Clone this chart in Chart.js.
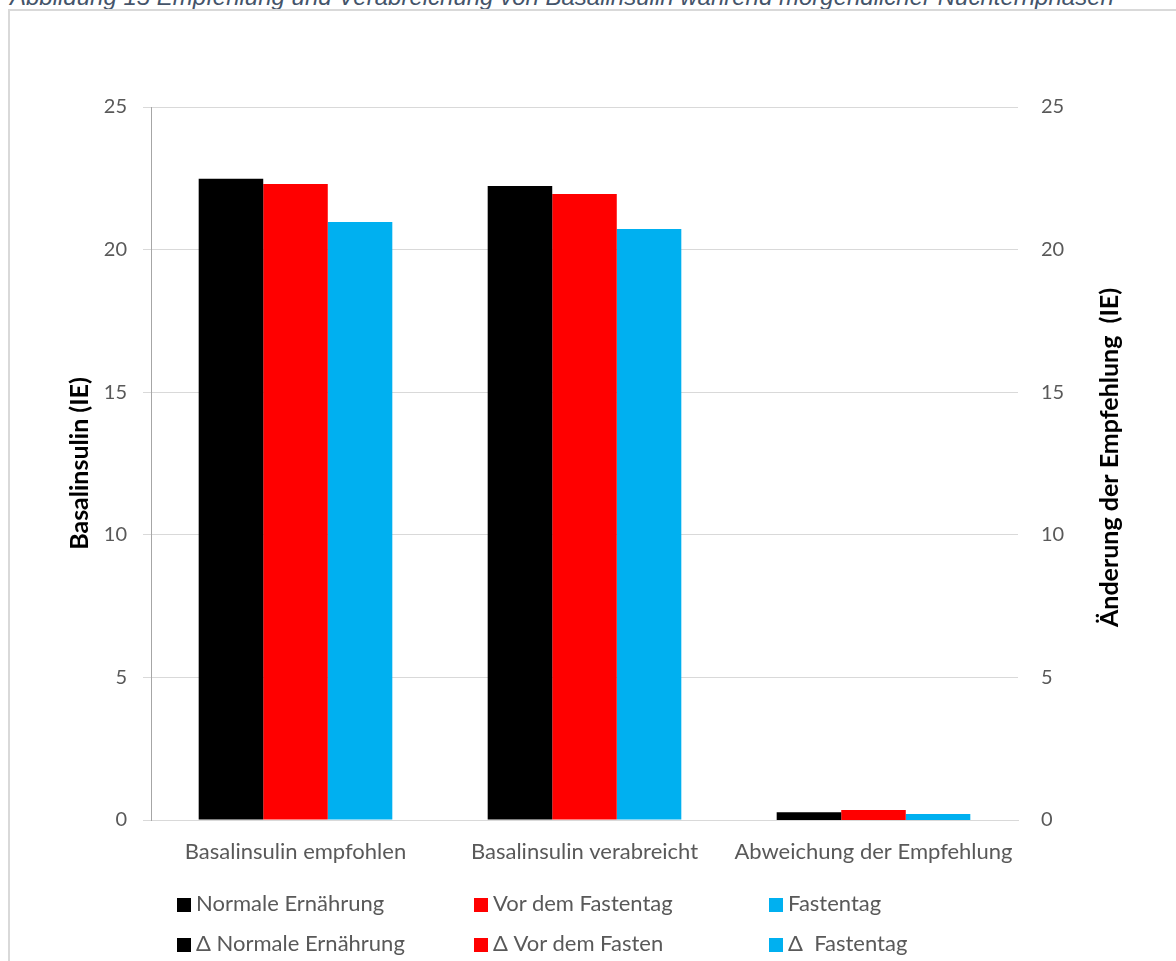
<!DOCTYPE html>
<html>
<head>
<meta charset="utf-8">
<script src="https://cdn.jsdelivr.net/npm/chart.js@4/dist/chart.umd.min.js"></script>
<style>
  html, body { margin: 0; padding: 0; background: #fff; }
  body { width: 1176px; height: 961px; position: relative; overflow: hidden; }
  #caption {
    position: absolute; left: 10px; top: -15px;
    font: italic 24px "Liberation Sans", Arial, sans-serif; line-height: 24px;
    color: #44546a; white-space: nowrap;
  }
  #frame {
    position: absolute; left: 8px; top: 9px; width: 1300px; height: 1100px;
    border: 2px solid #d9d9d9;
  }
  #chart { position: absolute; left: 0; top: 0; }
  #legend { position: absolute; left: 0; top: 0; }
  .item {
    position: absolute; white-space: pre;
    font: 22px Lato, "Open Sans", sans-serif; color: #595959; line-height: 26px;
  }
  .item i { display: inline-block; width: 14px; height: 14px; margin-right: 5px; vertical-align: -1px; }
</style>
</head>
<body>
<div id="caption">Abbildung 15 Empfehlung und Verabreichung von Basalinsulin während morgendlicher Nüchternphasen</div>
<div id="frame"></div>
<canvas id="chart" width="1176" height="961"></canvas>
<div id="legend"></div>
<script>
const categories = ['Basalinsulin empfohlen', 'Basalinsulin verabreicht', 'Abweichung der Empfehlung'];

// IE values, left axis
const normal = [22.48, 22.23, null];
const beforeFast = [22.3, 21.95, null];
const fastDay = [20.97, 20.72, null];

// change vs. recommendation, right axis
const deltaNormal = [null, null, 0.27];
const deltaBeforeFast = [null, null, 0.35];
const deltaFastDay = [null, null, 0.21];

const yTicks = [0, 5, 10, 15, 20, 25];

const BLACK = '#000000', RED = '#ff0000', CYAN = '#00b0f0';
const tickFont = { family: 'Lato', size: 20 };
const catFont = { family: 'Lato', size: 22 };
const titleFont = { family: 'Lato', size: 25, weight: 'bold' };
const rightTitle = 'Änderung der Empfehlung  (IE)';

const datasets = [
  { label: 'Normale Ernährung', data: normal, backgroundColor: BLACK, yAxisID: 'y' },
  { label: 'Vor dem Fastentag', data: beforeFast, backgroundColor: RED, yAxisID: 'y' },
  { label: 'Fastentag', data: fastDay, backgroundColor: CYAN, yAxisID: 'y' },
  { label: 'Δ Normale Ernährung', data: deltaNormal, backgroundColor: BLACK, yAxisID: 'y1' },
  { label: 'Δ Vor dem Fasten', data: deltaBeforeFast, backgroundColor: RED, yAxisID: 'y1' },
  { label: 'Δ  Fastentag', data: deltaFastDay, backgroundColor: CYAN, yAxisID: 'y1' },
];

// secondary axis title, read bottom-to-top like the primary one
const rightTitlePlugin = {
  id: 'rightTitle',
  afterDraw(c) {
    const { ctx, chartArea } = c;
    ctx.save();
    ctx.translate(1110, (chartArea.top + chartArea.bottom) / 2 - 6);
    ctx.rotate(-Math.PI / 2);
    ctx.font = `bold ${titleFont.size}px ${titleFont.family}`;
    ctx.fillStyle = '#000';
    ctx.textAlign = 'center';
    ctx.textBaseline = 'middle';
    ctx.fillText(rightTitle, 0, 0);
    ctx.restore();
  },
};

const chart = new Chart(document.getElementById('chart'), {
  type: 'bar',
  data: { labels: categories, datasets },
  plugins: [rightTitlePlugin],
  options: {
    responsive: false,
    animation: false,
    devicePixelRatio: 1,
    skipNull: true,
    categoryPercentage: 0.67,
    barPercentage: 1,
    layout: { padding: { top: 107, left: 0, right: 0, bottom: 0 } },
    plugins: { legend: { display: false }, tooltip: { enabled: false } },
    scales: {
      x: {
        grid: { drawOnChartArea: false, drawTicks: false },
        border: { color: '#d9d9d9', width: 1 },
        ticks: { font: catFont, color: '#595959', padding: 19 },
        afterFit: (s) => { s.height = 141; },
      },
      y: {
        position: 'left',
        min: 0, max: 25,
        afterBuildTicks: (s) => { s.ticks = yTicks.map((v) => ({ value: v })); },
        grid: { color: '#d9d9d9', tickColor: '#d9d9d9', tickLength: 8 },
        border: { color: '#a6a6a6', width: 1 },
        ticks: { font: tickFont, color: '#595959', padding: 16 },
        title: { display: true, text: 'Basalinsulin (IE)', font: titleFont, color: '#000', padding: { top: 65, bottom: 0 } },
        afterFit: (s) => { s.width = 151; },
      },
      y1: {
        position: 'right',
        min: 0, max: 25,
        afterBuildTicks: (s) => { s.ticks = yTicks.map((v) => ({ value: v })); },
        grid: { display: false, drawTicks: false },
        border: { display: false },
        ticks: { font: tickFont, color: '#595959', padding: 23 },
        afterFit: (s) => { s.width = 158; },
      },
    },
  },
});

// two-row legend in three columns, taken from the datasets
const columns = [177, 474, 769];
const rows = [890, 930];
const legend = document.getElementById('legend');
chart.data.datasets.forEach((ds, i) => {
  const el = document.createElement('div');
  el.className = 'item';
  el.style.left = columns[i % 3] + 'px';
  el.style.top = rows[Math.floor(i / 3)] + 'px';
  const sw = document.createElement('i');
  sw.style.background = ds.backgroundColor;
  el.appendChild(sw);
  el.appendChild(document.createTextNode(ds.label));
  legend.appendChild(el);
});
</script>
</body>
</html>
